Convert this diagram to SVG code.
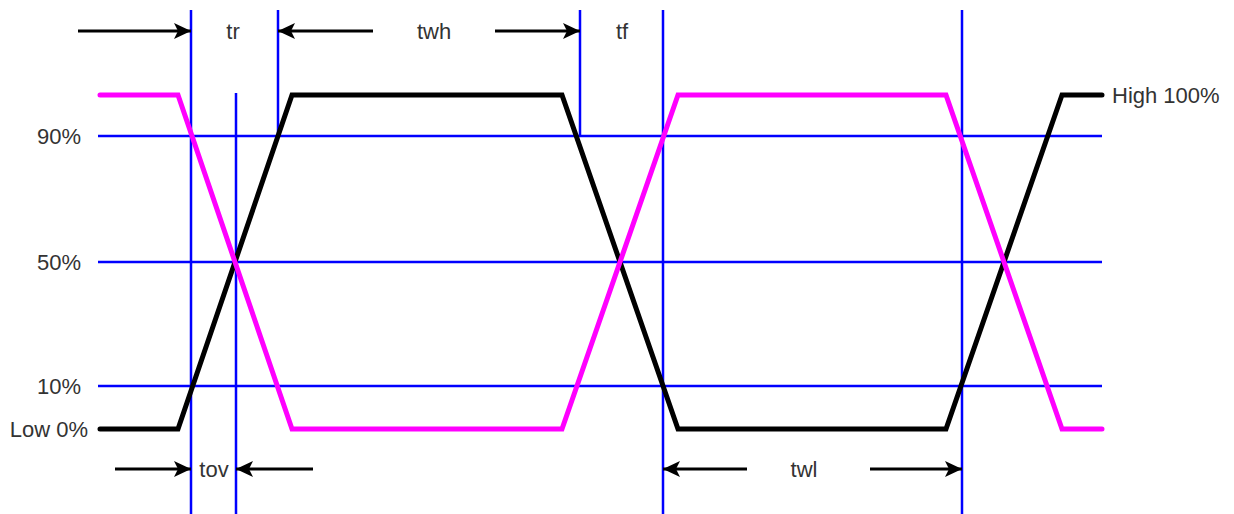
<svg xmlns="http://www.w3.org/2000/svg" width="1234" height="514" viewBox="0 0 1234 514">
<style>
.grid{stroke:#0000ff;stroke-width:2.5;fill:none}
.sig{fill:none;stroke-width:5;stroke-linejoin:miter;stroke-linecap:round}
.blk{stroke:#000}
.mag{stroke:#ff00ff}
.arr{stroke:#000;stroke-width:3;fill:none;marker-end:url(#ah)}
text{font-family:"Liberation Sans",Arial,sans-serif;font-size:22px;fill:#333}
</style>
<defs>
<marker id="ah" markerUnits="userSpaceOnUse" markerWidth="18" markerHeight="18" viewBox="0 0 18 18" refX="17" refY="9" orient="auto">
<path d="M0,1 L17,9 L0,17 L4,9 z" fill="#000"/>
</marker>
</defs>
<rect width="1234" height="514" fill="#fff"/>
<g id="levels">
<line class="grid" x1="98" y1="136" x2="1102" y2="136"/>
<line class="grid" x1="98" y1="262" x2="1102" y2="262"/>
<line class="grid" x1="98" y1="386" x2="1102" y2="386"/>
</g>
<g id="markers">
<line class="grid" x1="191" y1="10" x2="191" y2="514"/>
<line class="grid" x1="236" y1="93" x2="236" y2="514"/>
<line class="grid" x1="278" y1="10" x2="278" y2="137"/>
<line class="grid" x1="580" y1="10" x2="580" y2="137"/>
<line class="grid" x1="663" y1="10" x2="663" y2="514"/>
<line class="grid" x1="962" y1="10" x2="962" y2="514"/>
</g>
<g id="signal-black">
<polyline class="sig blk" points="100,429 178,429 292,95 562,95 678,429 946,429 1062,95 1102,95"/>
</g>
<g id="signal-magenta">
<polyline class="sig mag" points="100,95 178,95 292,429 562,429 678,95 946,95 1062,429 1102,429"/>
</g>
<g id="connectors">
<line class="arr" x1="78" y1="31" x2="191" y2="31"/>
<line class="arr" x1="373" y1="31" x2="278" y2="31"/>
<line class="arr" x1="495" y1="31" x2="580" y2="31"/>
<line class="arr" x1="115" y1="469" x2="191" y2="469"/>
<line class="arr" x1="313" y1="469" x2="236" y2="469"/>
<line class="arr" x1="747" y1="469" x2="663" y2="469"/>
<line class="arr" x1="870" y1="469" x2="962" y2="469"/>
</g>
<g id="labels">
<text x="233" y="39" text-anchor="middle">tr</text>
<text x="434" y="39" text-anchor="middle">twh</text>
<text x="622" y="39" text-anchor="middle">tf</text>
<text x="214" y="477" text-anchor="middle">tov</text>
<text x="804" y="477" text-anchor="middle">twl</text>
<text x="81" y="144" text-anchor="end">90%</text>
<text x="81" y="270" text-anchor="end">50%</text>
<text x="81" y="394" text-anchor="end">10%</text>
<text x="88" y="437" text-anchor="end">Low 0%</text>
<text x="1112" y="103">High 100%</text>
</g>
</svg>
